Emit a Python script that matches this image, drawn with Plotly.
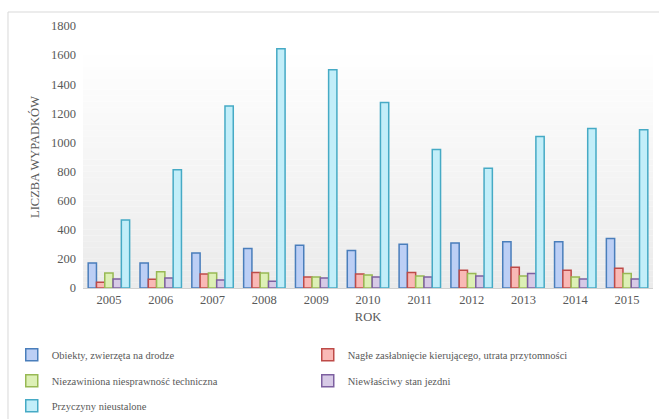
import plotly.graph_objects as go

# Road accident counts by cause, 2005-2015
years = ["2005", "2006", "2007", "2008", "2009", "2010", "2011", "2012", "2013", "2014", "2015"]

obiekty = [172, 172, 241, 271, 294, 257, 301, 310, 317, 317, 340]
zaslabniecie = [39, 60, 96, 106, 76, 96, 106, 122, 142, 122, 135]
niesprawnosc = [103, 112, 103, 103, 76, 90, 83, 99, 83, 76, 99]
stan_jezdni = [62, 69, 55, 46, 69, 76, 76, 83, 99, 62, 62]
nieustalone = [468, 813, 1251, 1644, 1500, 1274, 951, 822, 1040, 1095, 1088]

series_names = [
    "Obiekty, zwierzęta na drodze",
    "Nagłe zasłabnięcie kierującego, utrata przytomności",
    "Niezawiniona niesprawność techniczna",
    "Niewłaściwy stan jezdni",
    "Przyczyny nieustalone",
]
series_values = [obiekty, zaslabniecie, niesprawnosc, stan_jezdni, nieustalone]
fill_colors = ["#bccff5", "#f9b9b6", "#ddf0b6", "#d7cae6", "#c2eef9"]
line_colors = ["#4a7ebb", "#be4b48", "#98b954", "#7d60a0", "#46aac5"]
# legend rows: two entries per row, the last one alone
legend_ids = ["legend", "legend", "legend2", "legend2", "legend3"]

SERIF = "Liberation Serif"
GREY = "#595959"

fig = go.Figure()
for name, vals, fc, lc, lg in zip(series_names, series_values, fill_colors, line_colors, legend_ids):
    fig.add_trace(go.Bar(
        x=years, y=vals, name=name, legend=lg,
        marker=dict(color=fc, line=dict(color=lc, width=1.5)),
    ))

# soft vertical gradient behind the plot area (white at top, light grey at bottom)
shapes = []
n_steps = 40
top = 0.89
for i in range(n_steps):
    y0 = top * i / n_steps
    y1 = top * (i + 1) / n_steps
    t = i / (n_steps - 1)  # 0 at bottom, 1 at top
    g = int(round(235 + (254 - 235) * t))
    shapes.append(dict(
        type="rect", xref="paper", yref="paper",
        x0=0, x1=1, y0=y0, y1=y1,
        fillcolor=f"rgb({g},{g},{g})", line=dict(width=0), layer="below",
    ))
# outer chart frame
shapes.append(dict(
    type="rect", xref="paper", yref="paper",
    x0=-0.1316, x1=1.06, y0=-0.55, y1=1.0534,
    fillcolor="rgba(0,0,0,0)", line=dict(color="#d9d9d9", width=1), layer="below",
))


def legend_row(y_top):
    return dict(
        orientation="h",
        x=-0.125, xanchor="left",
        y=y_top, yanchor="top",
        entrywidth=251, entrywidthmode="pixels",
        font=dict(family=SERIF, size=10.5, color=GREY),
        bgcolor="rgba(0,0,0,0)",
        traceorder="normal",
    )


fig.update_layout(
    width=659, height=419,
    margin=dict(l=83, r=6, t=26, b=131, autoexpand=False),
    paper_bgcolor="white",
    plot_bgcolor="rgba(0,0,0,0)",
    barmode="group",
    bargap=0.2,
    bargroupgap=0.0,
    shapes=shapes,
    font=dict(family=SERIF, color=GREY, size=12.5),
    showlegend=True,
    legend=legend_row(-0.1996),
    legend2=legend_row(-0.2989),
    legend3=legend_row(-0.3943),
)

fig.update_xaxes(
    showgrid=False,
    showline=True, linecolor="#d0d0d0", linewidth=1,
    ticks="",
    tickfont=dict(family=SERIF, size=12.5, color=GREY),
    title=dict(text="ROK", font=dict(family=SERIF, size=12.5, color=GREY), standoff=6),
)
fig.update_yaxes(
    range=[0, 1800],
    dtick=200,
    showgrid=False,
    zeroline=False,
    showline=False,
    ticks="",
    ticklabelstandoff=6,
    tickfont=dict(family=SERIF, size=12.5, color=GREY),
    title=dict(text="LICZBA WYPADKÓW", font=dict(family=SERIF, size=12.5, color=GREY), standoff=8),
)

fig.write_html("out.html")
